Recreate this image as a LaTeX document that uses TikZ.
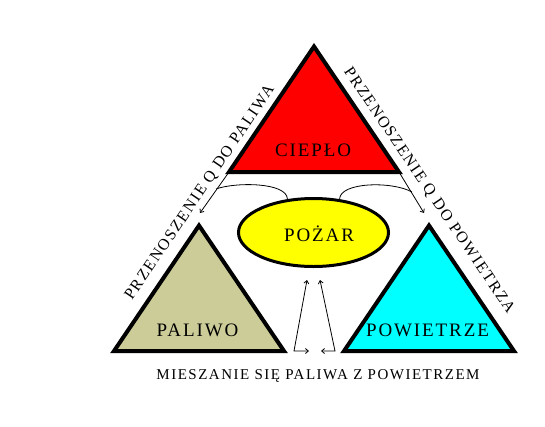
\documentclass[tikz,border=0pt]{standalone}
\usepackage{fontspec}
\newfontfamily\trifont[LetterSpace=10]{Liberation Serif}
\usetikzlibrary{%
  arrows.meta,%
  shapes,% wg. ellipse
  positioning%
}
\definecolor{fuelkhaki}{RGB}{204,204,153}
\definecolor{aircyan}{RGB}{0,255,255}
\definecolor{fireyellow}{RGB}{255,255,0}
\definecolor{heatred}{RGB}{255,0,0}

\begin{document}
\begin{tikzpicture}[
  x=1pt, y=-1pt, >={Straight Barb[length=3pt,width=5pt]},
  tri/.style={line width=4pt, draw=black, line join=miter},
  trilabel/.style={font=\trifont\fontsize{19}{22}\selectfont, anchor=base, inner sep=0pt},
  sidelabel/.style={font=\trifont\fontsize{16}{19}\selectfont, anchor=base, inner sep=0pt},
  flow/.style={line width=0.8pt}
]
\useasboundingbox (0,0) rectangle (545,426);

% triangles
\coordinate (heattop) at (314,46.5);
\coordinate (heatl) at (229,172);
\coordinate (heatr) at (399,172);
\coordinate (fueltop) at (199,225.5);
\coordinate (fuell) at (114,351);
\coordinate (fuelr) at (284,351);
\coordinate (airtop) at (429,225.5);
\coordinate (airl) at (344,351);
\coordinate (airr) at (514,351);
\filldraw[tri, fill=heatred] (heattop) -- (heatl) -- (heatr) -- cycle;
\filldraw[tri, fill=fuelkhaki] (fueltop) -- (fuell) -- (fuelr) -- cycle;
\filldraw[tri, fill=aircyan] (airtop) -- (airl) -- (airr) -- cycle;

\node[trilabel] (heat) at (313,156) {CIEPŁO};
\node[trilabel] (fuel) at (197.5,336) {PALIWO};
\node[trilabel] (air) at (427.5,336) {POWIETRZE};

\node[ellipse, line width=3pt, draw=black, fill=fireyellow, minimum width=150pt, minimum height=68pt] (fire) at (313.5,232.5) {};
\node[trilabel] (firetext) at (319,241) {POŻAR};

% heat transfer
\coordinate (tofuel) at (200,213);
\coordinate (toair) at (424,213);
\coordinate (joinl) at (216,189);
\coordinate (joinr) at (412,192);
\draw[flow,->] (heatl) -- (tofuel);
\draw[flow,->] (heatr) -- (toair);
\draw[flow] (fire.128) .. controls (287,182) and (235,182) .. (joinl);
\draw[flow] (fire.52) .. controls (340,182) and (392,181) .. (joinr);

\node[sidelabel, rotate=56] (qfuel) at (203.4,195) {PRZENOSZENIE Q DO PALIWA};
\node[sidelabel, rotate=-56] (qair) at (425.6,193) {PRZENOSZENIE Q DO POWIETRZA};

% mixing
\coordinate (mixl) at (294,351);
\coordinate (mixlup) at (307,280);
\coordinate (mixlside) at (309,351);
\coordinate (mixr) at (335,351);
\coordinate (mixrup) at (320,280);
\coordinate (mixrside) at (321,351);
\draw[flow,<->] (mixlup) -- (mixl) -- (mixlside);
\draw[flow,<->] (mixrup) -- (mixr) -- (mixrside);

\node[sidelabel, font=\trifont\fontsize{15}{18}\selectfont] (mix) at (318,379) {MIESZANIE SIĘ PALIWA Z POWIETRZEM};
\end{tikzpicture}
\end{document}
